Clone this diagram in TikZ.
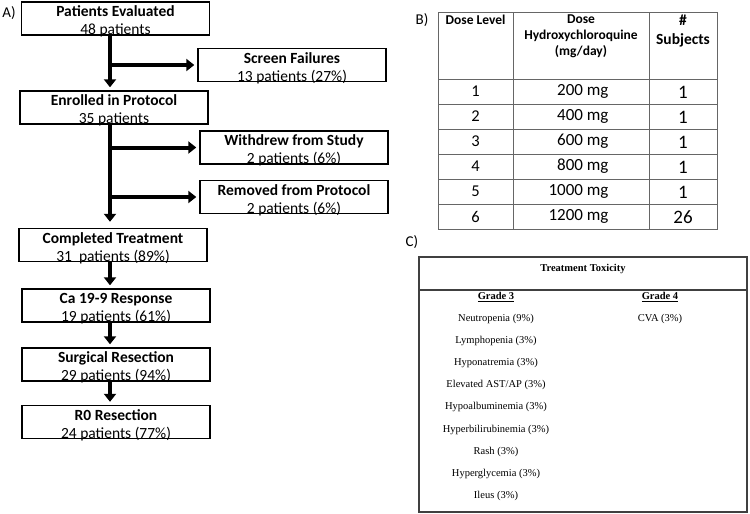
\documentclass[tikz,border=0pt]{standalone}
\usepackage{fontspec}
\setmainfont{Carlito}
\newfontfamily\tnr{Liberation Serif}
\usetikzlibrary{arrows.meta}

\newcommand{\topstrut}{\rule{0pt}{14pt}}

\tikzset{
	flowbox/.style={draw, line width=1.4pt, minimum width=188pt, minimum height=33pt,
		inner sep=0pt, align=center, font=\fontsize{15.5}{18}\selectfont},
	flow/.style={line width=4pt, -{Triangle[width=12pt,length=8pt]}, shorten >=3pt},
	tabline/.style={draw=black!60, line width=1pt},
	panel/.style={font=\fontsize{15}{17}\selectfont},
	toxtext/.style={font=\tnr\fontsize{10.5}{12}\selectfont, inner sep=0pt}
}

\begin{document}
\begin{tikzpicture}[x=1pt, y=-1pt]
	\useasboundingbox (0,0) rectangle (750,514);
	
	% A) flow of patients
	\node[panel] (pa) at (9,13) {A)};
	\node[flowbox] (eval) at (115.5,18.5) {\topstrut\textbf{Patients Evaluated}\\\smash{48 patients}};
	\node[flowbox] (screen) at (292,65) {\topstrut\textbf{Screen Failures}\\\smash{13 patients (27\%)}};
	\node[flowbox] (enroll) at (114,107.5) {\topstrut\textbf{Enrolled in Protocol}\\\smash{35 patients}};
	\node[flowbox] (withdrew) at (294,147.5) {\topstrut\textbf{Withdrew from Study}\\\smash{2 patients (6\%)}};
	\node[flowbox] (removed) at (294,197) {\topstrut\textbf{Removed from Protocol}\\\smash{2 patients (6\%)}};
	\node[flowbox] (done) at (113,245) {\topstrut\textbf{Completed Treatment}\\\smash{31\ \ patients (89\%)}};
	\node[flowbox] (ca) at (116,305.5) {\topstrut\textbf{Ca 19-9 Response}\\\smash{19 patients (61\%)}};
	\node[flowbox] (surg) at (116,364.5) {\topstrut\textbf{Surgical Resection}\\\smash{29 patients (94\%)}};
	\node[flowbox] (rzero) at (116,422) {\topstrut\textbf{R0 Resection}\\\smash{24 patients (77\%)}};
	
	\coordinate (trunk) at (110,0);
	\draw[flow] (eval.south -| trunk) -- (enroll.north -| trunk);
	\draw[flow] (trunk |- screen.west) -- (screen.west);
	\draw[flow, shorten >=6pt] (enroll.south -| trunk) -- (done.north -| trunk);
	\draw[flow] (trunk |- withdrew.west) -- (withdrew.west);
	\draw[flow] (trunk |- removed.west) -- (removed.west);
	\draw[flow] (done.south -| trunk) -- (ca.north -| trunk);
	\draw[flow] (ca.south -| trunk) -- (surg.north -| trunk);
	\draw[flow] (surg.south -| trunk) -- (rzero.north -| trunk);
	
	% B) dose levels
	\node[panel] (pb) at (422,20) {B)};
	\draw[tabline] (438,12) rectangle (717,229);
	\draw[tabline] (513,12) -- (513,229);
	\draw[tabline] (649,12) -- (649,229);
	\foreach \y in {79, 104, ..., 204}
		\draw[tabline] (438,\y) -- (717,\y);
	
	\node[font=\fontsize{13.5}{16}\selectfont\bfseries] (hlevel) at (475.5,20) {Dose Level};
	\node[font=\fontsize{13.5}{16}\selectfont\bfseries, align=center] (hdose) at (581,36) {Dose\\Hydroxychloroquine\\(mg/day)};
	\node[font=\fontsize{15.5}{19}\selectfont\bfseries, align=center] (hsubj) at (683,31) {\#\\Subjects};
	
	\foreach \lv/\dose/\n in {1/200/1, 2/400/1, 3/600/1, 4/800/1, 5/1000/1, 6/1200/26}{
		\pgfmathsetmacro{\yc}{91.5+25*(\lv-1)}
		\node[font=\fontsize{16.5}{19}\selectfont] (lvl\lv) at (475.5,\yc) {\lv};
		\node[font=\fontsize{17}{20}\selectfont, anchor=east] (dose\lv) at (612,\yc) {\dose\ mg};
		\node[font=\fontsize{19}{22}\selectfont] (subj\lv) at (683,\yc+1) {\n};
	}
	
	% C) toxicity
	\node[panel] (pc) at (412,242) {C)};
	\draw[draw=black!75, line width=1.3pt] (419,257) rectangle (747,512);
	\draw[draw=black!75, line width=1.3pt] (419,290) -- (747,290);
	\node[toxtext, font=\tnr\fontsize{10.5}{12}\selectfont\bfseries] (tox) at (583,269) {Treatment Toxicity};
	\node[toxtext, font=\tnr\fontsize{10.5}{12}\selectfont\bfseries] (gthree) at (496,297) {\underline{Grade 3}};
	\node[toxtext, font=\tnr\fontsize{10.5}{12}\selectfont\bfseries] (gfour) at (660,297) {\underline{Grade 4}};
	\foreach \t [count=\i] in {Neutropenia (9\%), Lymphopenia (3\%), Hyponatremia (3\%),
		Elevated AST/AP (3\%), Hypoalbuminemia (3\%), Hyperbilirubinemia (3\%),
		Rash (3\%), Hyperglycemia (3\%), Ileus (3\%)}
		\node[toxtext] (gr\i) at (496,{319+22.1*(\i-1)}) {\t};
	\node[toxtext] (cva) at (660,319) {CVA (3\%)};
\end{tikzpicture}
\end{document}
